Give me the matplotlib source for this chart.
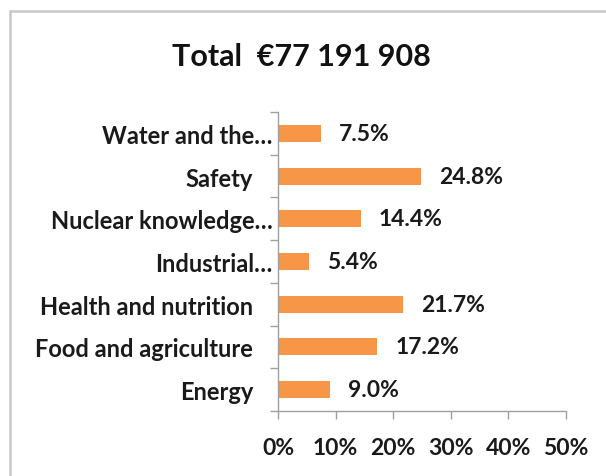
import matplotlib
matplotlib.use("Agg")
import matplotlib.pyplot as plt
from matplotlib.patches import Rectangle
from matplotlib.ticker import FixedLocator

categories = ["Energy", "Food and agriculture", "Health and nutrition",
              "Industrial…", "Nuclear knowledge…", "Safety", "Water and the…"]
values = [9.0, 17.2, 21.7, 5.4, 14.4, 24.8, 7.5]
truncated = [False, False, False, True, True, False, True]
xticks = [0, 10, 20, 30, 40, 50]
title = "Total  €77 191 908"

plt.rcParams['font.family'] = ['Lato', 'DejaVu Sans']
plt.rcParams['font.weight'] = 'bold'

fig = plt.figure(figsize=(6.06, 4.77), dpi=100)
fig.patch.set_facecolor('white')
# outer frame (chart area border)
fig.patches.append(Rectangle((10/606, -0.2), 1.2, 1.2 - 12/477,
                             transform=fig.transFigure, fill=False,
                             edgecolor='#C8C8C8', linewidth=1.8))

ax = fig.add_axes([278/606, 1 - 412/477, (566 - 278)/606, (412 - 113)/477])
y = list(range(len(categories)))
ax.barh(y, values, height=0.4, color='#F79646')
ax.set_xlim(0, 50)
ax.set_ylim(-0.5, len(categories) - 0.5)

for yi, v in zip(y, values):
    ax.annotate(f"{v:.1f}%", (v, yi), xytext=(13, 0), textcoords='offset points',
                va='center', ha='left', fontsize=16.5, fontweight='bold', color='#1a1a1a')

ax.set_yticks(y)
ax.set_yticklabels(categories, fontsize=17, fontweight='bold', color='#1a1a1a')
ax.tick_params(axis='y', which='major', length=0)
for t, tr in zip(ax.yaxis.get_major_ticks(), truncated):
    t.set_pad(4 if tr else 18)
ax.yaxis.set_minor_locator(FixedLocator([i - 0.5 for i in range(len(categories) + 1)]))
ax.tick_params(axis='y', which='minor', length=6, width=1, color='#A0A0A0', direction='out')

ax.set_xticks(xticks)
ax.set_xticklabels([f"{t}%" for t in xticks], fontsize=16.5, fontweight='bold', color='#1a1a1a')
ax.tick_params(axis='x', length=6, width=1, color='#A0A0A0', direction='out', pad=13)

for s in ['top', 'right']:
    ax.spines[s].set_visible(False)
for s in ['left', 'bottom']:
    ax.spines[s].set_color('#A0A0A0')
    ax.spines[s].set_linewidth(1)

fig.text(0.5 * (170 + 433) / 606, 1 - 57/477, title, ha='center', va='center',
         fontsize=22, fontweight='bold', color='#111111')

fig.savefig("out.png", dpi=100)
